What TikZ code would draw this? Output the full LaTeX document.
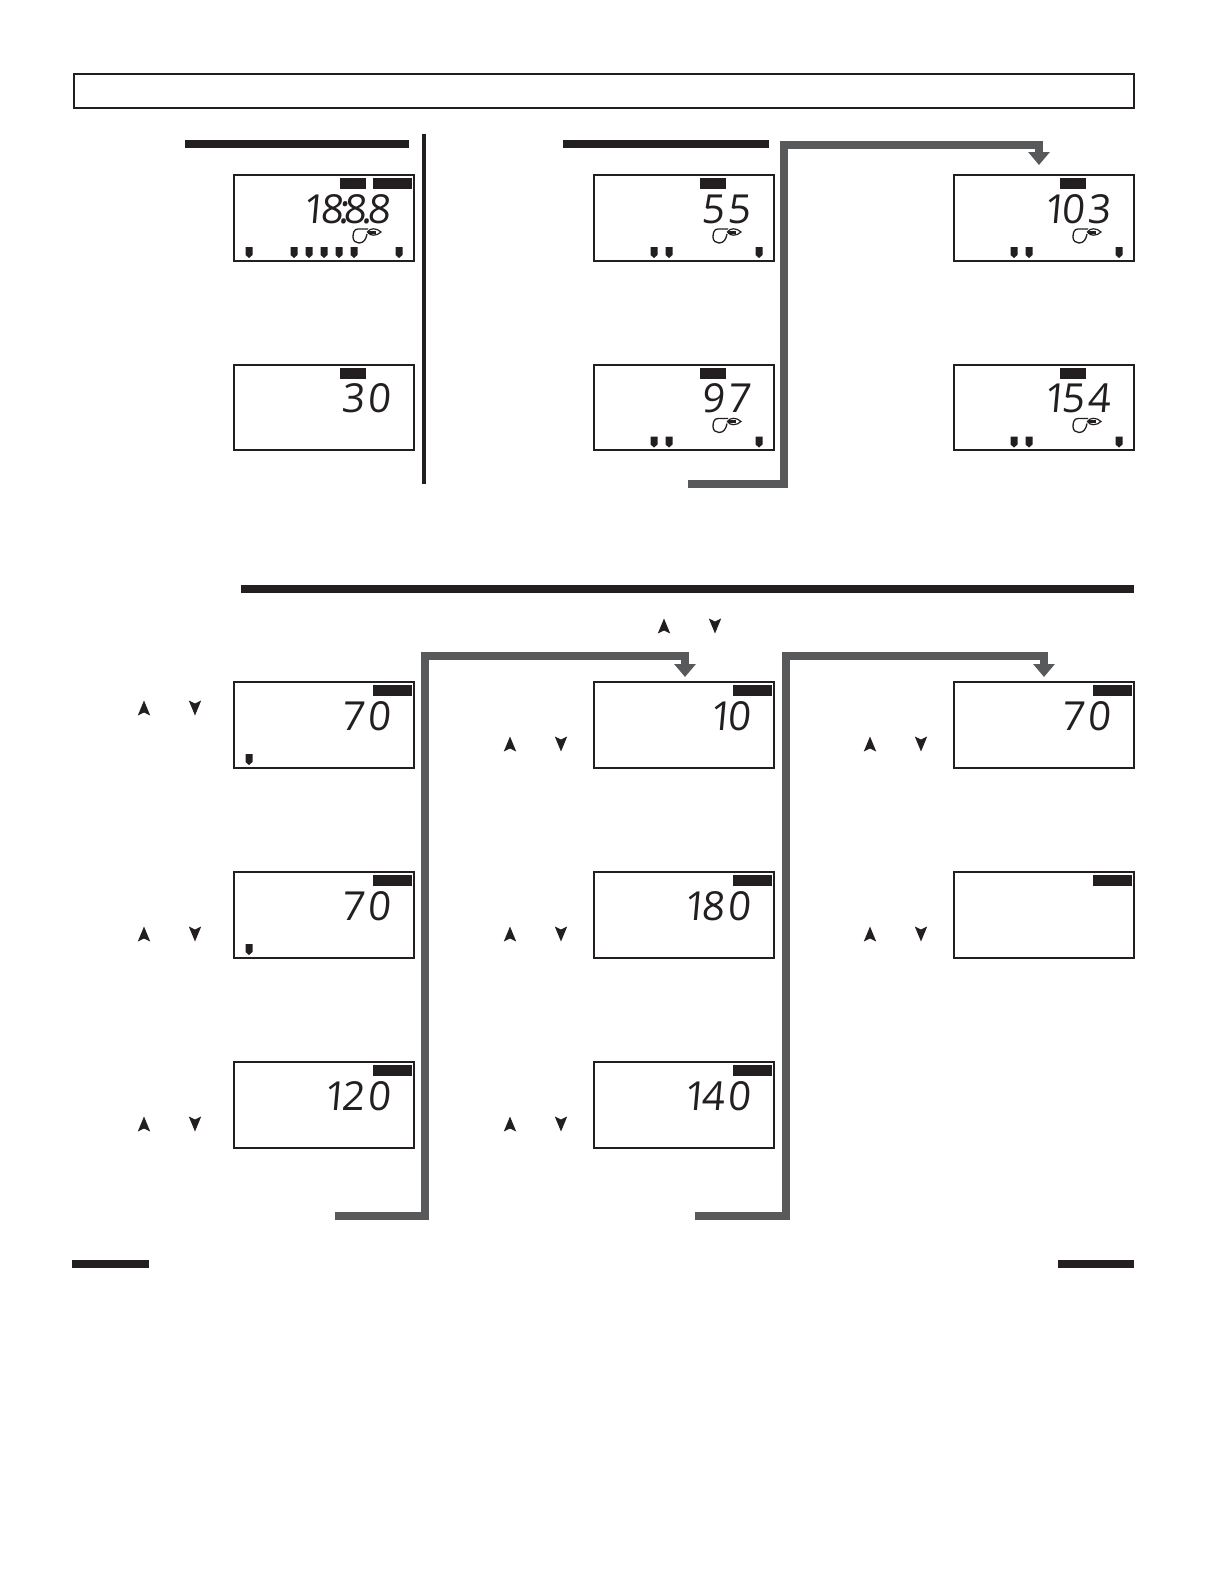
\documentclass[tikz,border=0pt]{standalone}
\usepackage{fontspec}
\usetikzlibrary{arrows.meta, calc}
\newfontfamily\lcdfont[FakeSlant=0.09, LetterSpace=7]{Open Sans}
\definecolor{cink}{RGB}{35,31,32}
\definecolor{clink}{RGB}{88,89,91}
\newcommand{\ONE}{1\kern-5pt}

\tikzset{
  lcd/.style={draw=cink, line width=2.4pt, minimum width=180pt, minimum height=85.5pt, anchor=north west, inner sep=0pt},
  tagshort/.style={fill=cink, minimum width=26pt, minimum height=11pt, inner sep=0pt},
  taglong/.style={fill=cink, minimum width=39pt, minimum height=11pt, inner sep=0pt},
  digits/.style={anchor=east, inner sep=0pt, text=cink, font=\lcdfont\fontsize{40}{40}\selectfont},
  bar/.style={fill=cink},
  link/.style={draw=clink, line width=8pt, miter limit=10, -{Triangle[length=13pt,width=21pt]}},
  marker/.pic={\fill[cink] (-3.5,0) -- (3.5,0) -- (3.5,8) -- (0,11) -- (-3.5,8) -- cycle;},
  btnup/.pic={\fill[cink] (0,-7.5) -- (6.2,7.5) -- (0,4.5) -- (-6.2,7.5) -- cycle;},
  btndown/.pic={\fill[cink] (0,7.5) -- (6.2,-7.5) -- (0,-4.5) -- (-6.2,-7.5) -- cycle;},
  pump/.pic={
    \draw[cink, line width=1.3pt] (135,55) -- (125,55) .. controls (121,55) and (120,59) .. (120,63)
       .. controls (120,67) and (123,69) .. (126,69) .. controls (131,69) and (133,65) .. (134,60);
    \draw[cink, line width=1.2pt, fill=white] (134.5,58) .. controls (137,53.5) and (144,54) .. (148,58)
       .. controls (144,62) and (137,62.5) .. (134.5,58) -- cycle;
    \fill[cink] (135,56.5) rectangle (143,59.5);}
}

\begin{document}
\begin{tikzpicture}[x=1pt, y=-1pt]
  \useasboundingbox (0,0) rectangle (1224,1584);

  \node[draw=cink, line width=2.4pt, minimum width=1060pt, minimum height=34pt, anchor=north west, inner sep=0pt] (title) at (72.5,73) {};

  % heading bars
  \fill[bar] (185,140) rectangle (409,148);
  \fill[bar] (563,140) rectangle (769,148);
  \fill[bar] (241,585) rectangle (1134,593);
  \fill[bar] (72,1260) rectangle (149,1268);
  \fill[bar] (1058,1260) rectangle (1134,1268);
  \draw[cink, line width=4pt] (424,134) -- (424,484);

  % screens
  \foreach \n/\x/\y in {sA/233/174, sB/233/363.5, sC/593/174, sD/593/363.5, sE/953/174, sF/953/363.5,
      sG/233/681, sH/233/871, sI/233/1061, sJ/593/681, sK/593/871, sL/593/1061, sM/953/681, sN/953/871}
    \node[lcd] (\n) at (\x,\y) {};

  \foreach \n in {sA,sB,sC,sD,sE,sF}
    \node[tagshort] (tag\n) at ($(\n.north west)+(120,9.5)$) {};
  \foreach \n in {sA,sG,sH,sI,sJ,sK,sL,sM,sN}
    \node[taglong] (long\n) at ($(\n.north west)+(159.5,9.5)$) {};

  % readouts
  \foreach \n/\val in {sA/\ONE 8\kern-5pt:\kern-5pt 8\kern-5pt.\kern-5pt 8, sB/30, sC/55, sD/97, sE/\ONE 03, sF/\ONE 54,
      sG/70, sH/70, sI/\ONE 20, sJ/\ONE 0, sK/\ONE 80, sL/\ONE 40, sM/70}
    \node[digits] (val\n) at ($(\n.north west)+(157.5,35)$) {\val};

  % markers along the lower edge
  \foreach \o in {16,61,76,91,106,121,166} \pic at ($(sA.north west)+(\o,73)$) {marker};
  \foreach \n in {sC,sD,sE,sF} \foreach \o in {61,76,166} \pic at ($(\n.north west)+(\o,73)$) {marker};
  \foreach \n in {sG,sH} \pic at ($(\n.north west)+(16,73)$) {marker};
  \foreach \n in {sA,sC,sD,sE,sF} \pic at (\n.north west) {pump};

  % up and down keys
  \foreach \u/\d/\y in {144/195/708, 144/195/934, 144/195/1124, 510/561/744, 510/561/934, 510/561/1124, 870/921/744, 870/921/934, 664/715/626} {
    \pic at (\u,\y) {btnup};
    \pic at (\d,\y) {btndown};
  }

  % wrap around links
  \coordinate (wrapA) at (688,484);
  \coordinate (riseA) at (784,145);
  \coordinate (landA) at (1039,165);
  \coordinate (wrapB) at (335,1216);
  \coordinate (riseB) at (425,656);
  \coordinate (landB) at (685,677);
  \coordinate (wrapC) at (695,1216);
  \coordinate (riseC) at (786,656);
  \coordinate (landC) at (1044,677);
  \foreach \k in {A,B,C} \draw[link] (wrap\k) -| (rise\k) -| (land\k);
\end{tikzpicture}
\end{document}
